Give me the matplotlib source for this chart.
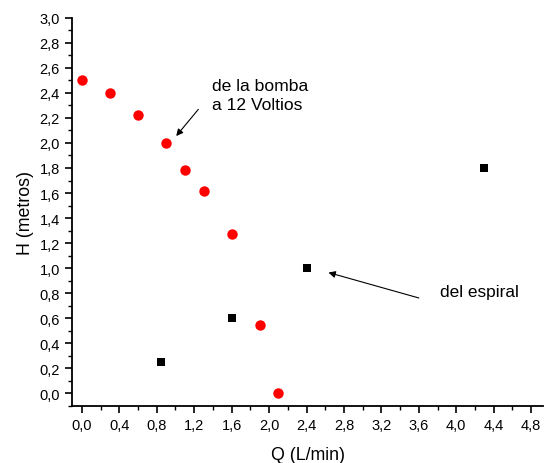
import matplotlib
matplotlib.use("Agg")
import matplotlib.pyplot as plt
from matplotlib.ticker import MultipleLocator, FuncFormatter

plt.rcParams['font.family'] = ['Liberation Sans', 'DejaVu Sans']

bomba_q = [0.0, 0.3, 0.6, 0.9, 1.1, 1.3, 1.6, 1.9, 2.1]
bomba_h = [2.5, 2.4, 2.22, 2.0, 1.78, 1.62, 1.27, 0.55, 0.0]
espiral_q = [0.85, 1.6, 2.4, 4.3]
espiral_h = [0.25, 0.6, 1.0, 1.8]

fig = plt.figure(figsize=(5.45, 4.64), dpi=100)
ax = fig.add_axes([0.132, 0.1222, 0.865, 0.8375])

ax.plot(bomba_q, bomba_h, 'o', color='#ff0000', markersize=7.5, markeredgewidth=0)
ax.plot(espiral_q, espiral_h, 's', color='black', markersize=6, markeredgewidth=0)

ax.set_xlim(-0.106, 4.93)
ax.set_ylim(-0.103, 3.0)
ax.spines['top'].set_visible(False)
ax.spines['right'].set_visible(False)
for s in ['left', 'bottom']:
    ax.spines[s].set_linewidth(1.3)

ax.xaxis.set_major_locator(MultipleLocator(0.4))
ax.xaxis.set_minor_locator(MultipleLocator(0.2))
ax.yaxis.set_major_locator(MultipleLocator(0.2))
ax.yaxis.set_minor_locator(MultipleLocator(0.1))
fmt = FuncFormatter(lambda v, p: f"{v:.1f}".replace('.', ','))
ax.xaxis.set_major_formatter(fmt)
ax.yaxis.set_major_formatter(fmt)
ax.tick_params(which='major', direction='out', length=5, width=1.2, labelsize=10.5, pad=3.6)
ax.tick_params(which='minor', direction='out', length=3, width=1.0)

ax.set_xlabel('Q (L/min)', fontsize=12.8, labelpad=10)
ax.set_ylabel('H (metros)', fontsize=12.8, labelpad=4)

ax.annotate('', xy=(0.989, 2.038), xytext=(1.263, 2.285),
            arrowprops=dict(arrowstyle='-|>', color='black', lw=0.8, mutation_scale=10))
ax.text(1.39, 2.38, 'de la bomba\na 12 Voltios', fontsize=12.6, ha='left', va='center',
        linespacing=1.35)
ax.annotate('', xy=(2.606, 0.971), xytext=(3.628, 0.756),
            arrowprops=dict(arrowstyle='-|>', color='black', lw=0.8, mutation_scale=10))
ax.text(3.83, 0.812, 'del espiral', fontsize=12.4, ha='left', va='center')

fig.savefig('out.png', dpi=100)
